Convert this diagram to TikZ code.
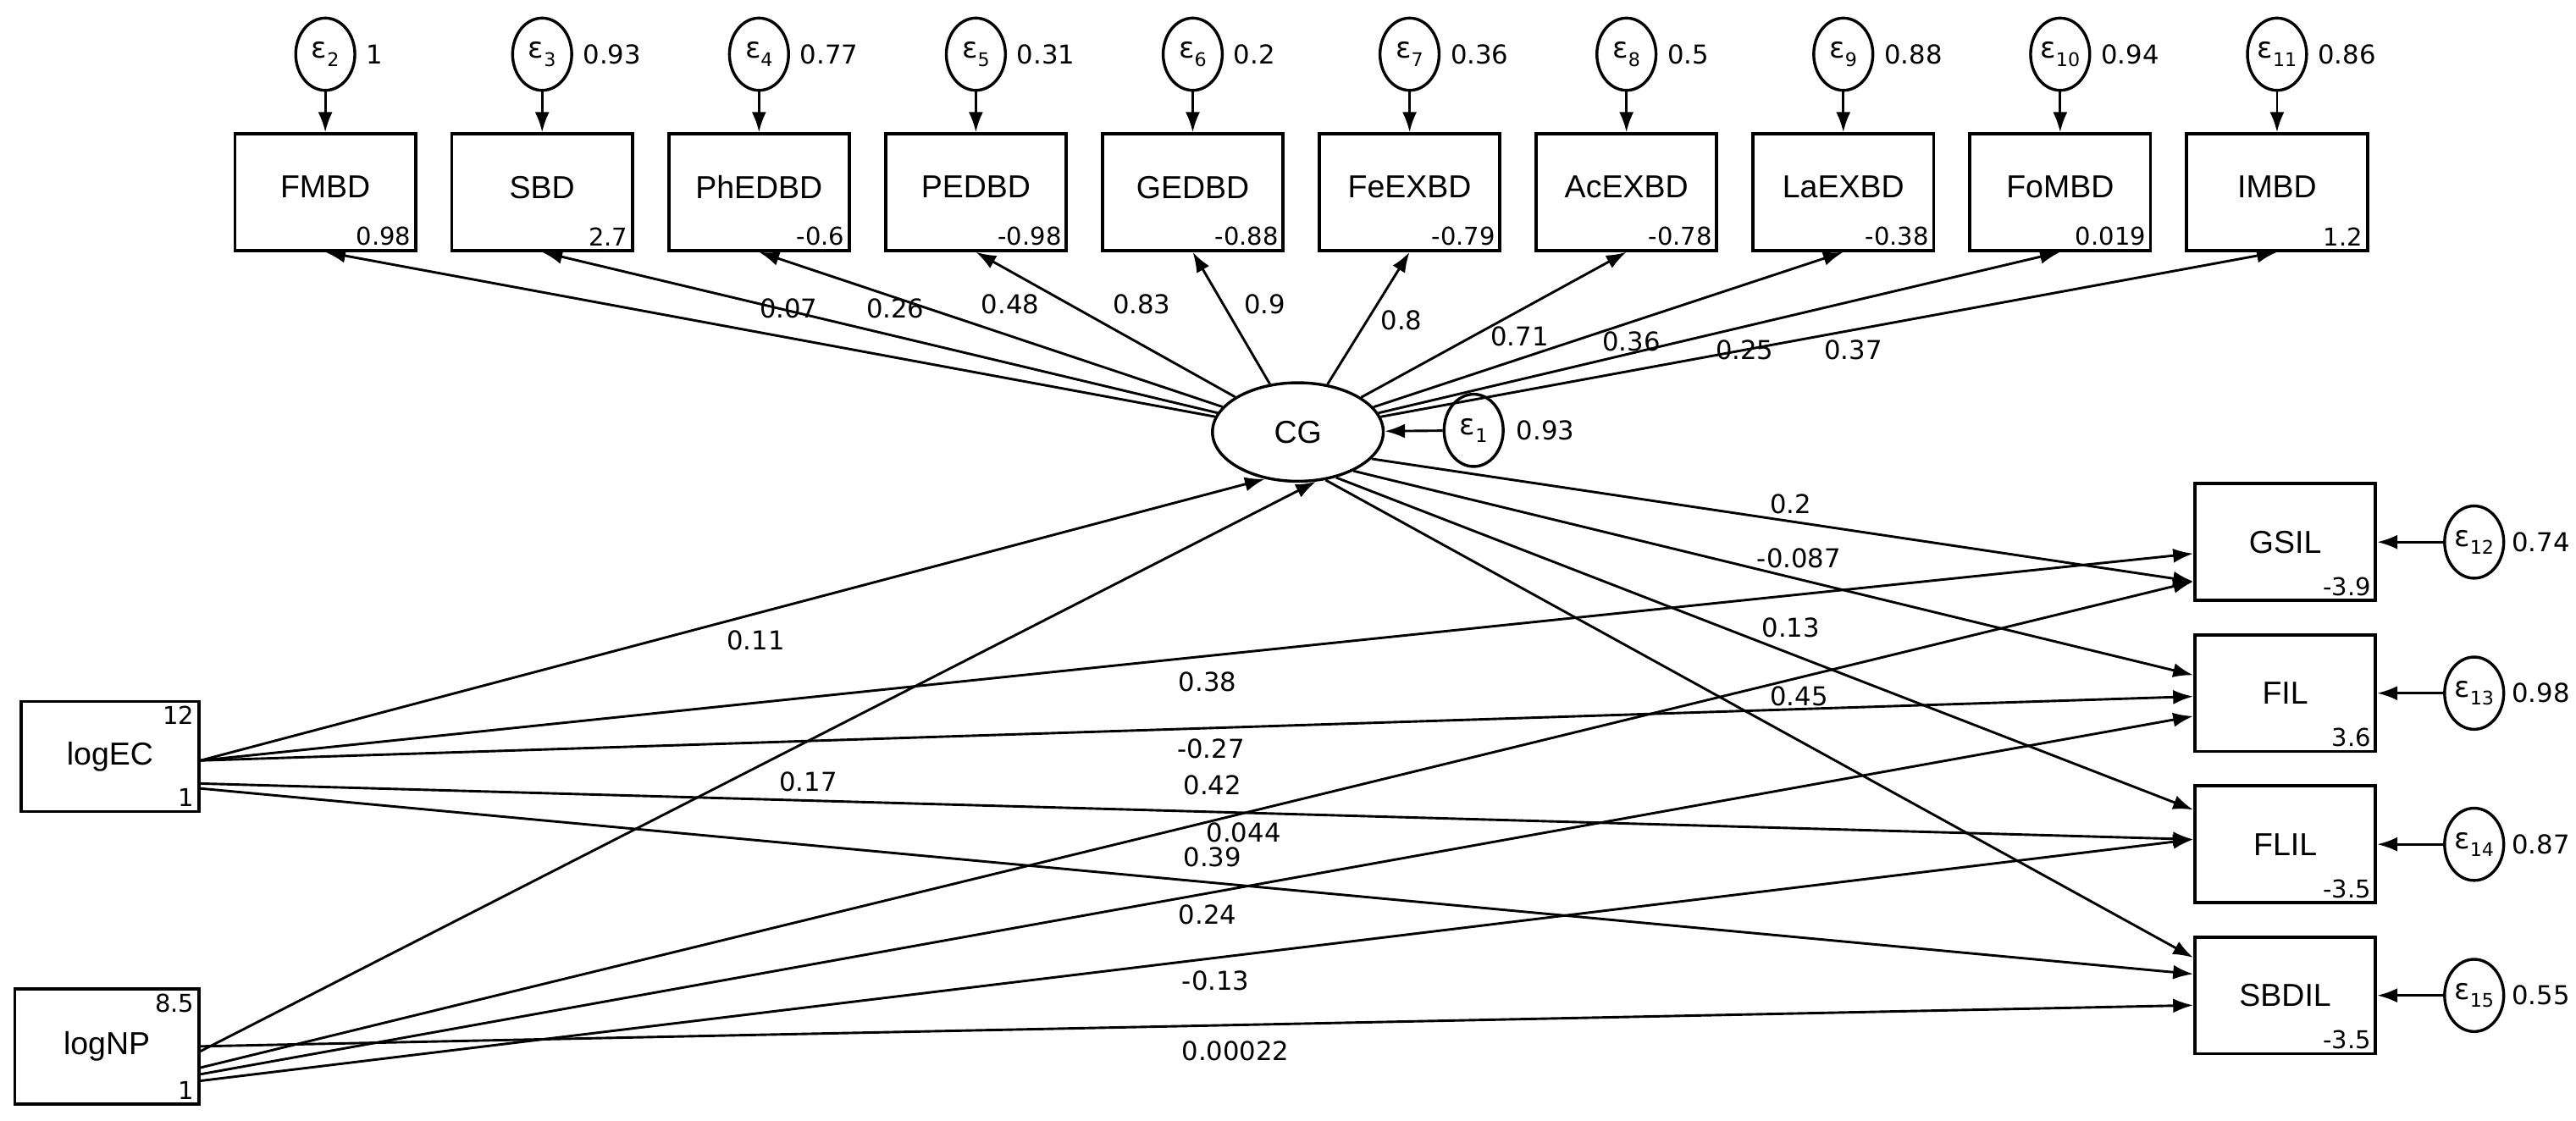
\documentclass[tikz,border=0pt]{standalone}
\usepackage{fontspec}
\setmainfont{Liberation Sans}
\newfontfamily\numfont{DejaVu Sans}
\usetikzlibrary{shapes.geometric,arrows.meta}
\begin{document}
\begin{tikzpicture}[x=0.02cm,y=-0.02cm,
  box/.style={draw,line width=1.1pt,minimum width=2.2cm,minimum height=1.42cm,inner sep=0pt,font=\fontsize{11pt}{12pt}\selectfont},
  err/.style={draw,line width=1pt,ellipse,minimum width=0.72cm,minimum height=0.88cm,inner sep=0pt,font=\numfont\fontsize{10pt}{11pt}\selectfont},
  num/.style={font=\numfont\fontsize{9pt}{10pt}\selectfont,inner sep=1pt},
  inum/.style={font=\numfont\fontsize{8.5pt}{9pt}\selectfont,inner sep=2pt},
  arr/.style={-{Latex[length=7pt,width=5pt]},line width=0.85pt}]
\useasboundingbox (0,0) rectangle (1568,682);
\newcommand{\eps}[1]{ε\raisebox{-0.5ex}{\fontsize{6.5pt}{7pt}\selectfont #1}}
% latent
\node[draw,ellipse,line width=1pt,minimum width=2.08cm,minimum height=1.2cm,font=\fontsize{11pt}{12pt}\selectfont] (CG) at (790,263) {CG};
\node[err] (e1) at (897,262) {\eps{1}};
\node[num,anchor=west] at (921,262) {0.93};
\draw[arr] (e1) -- (CG);
% top indicators
\foreach \n/\m/\v/\k/\lx/\ly/\lv [count=\i] in {
 FMBD/0.98/1/2/480/188/0.07,
 SBD/2.7/0.93/3/545/188/0.26,
 PhEDBD/-0.6/0.77/4/615/185/0.48,
 PEDBD/-0.98/0.31/5/695/185/0.83,
 GEDBD/-0.88/0.2/6/770/185/0.9,
 FeEXBD/-0.79/0.36/7/853/195/0.8,
 AcEXBD/-0.78/0.5/8/925/205/0.71,
 LaEXBD/-0.38/0.88/9/993/208/0.36,
 FoMBD/0.019/0.94/10/1062/213/0.25,
 IMBD/1.2/0.86/11/1128/213/0.37}{
  \pgfmathsetmacro{\cx}{198+132*(\i-1)}
  \node[box] (b\i) at (\cx,117) {\raisebox{0.6ex}{\n}};
  \node[inum,anchor=south east] at (b\i.south east) {\m};
  \node[err] (t\i) at (\cx,33) {\eps{\k}};
  \node[num,anchor=west] at ([xshift=0.08cm]t\i.east) {\v};
  \draw[arr] (t\i) -- (b\i);
  \draw[arr] (CG) -- (b\i.south);
  \node[num] at (\lx,\ly) {\lv};
}
% exogenous
\node[box,minimum width=2.16cm,minimum height=1.34cm] (EC) at (67,460.5) {logEC};
\node[inum,anchor=north east] at (EC.north east) {12};
\node[inum,anchor=south east] at (EC.south east) {1};
\node[box,minimum width=2.24cm,minimum height=1.4cm] (NP) at (65,637) {logNP};
\node[inum,anchor=north east] at (NP.north east) {8.5};
\node[inum,anchor=south east] at (NP.south east) {1};
% outcomes
\foreach \n/\m/\v/\k/\y in {GSIL/-3.9/0.74/12/330, FIL/3.6/0.98/13/422, FLIL/-3.5/0.87/14/514, SBDIL/-3.5/0.55/15/606}{
  \node[box] (\n) at (1391,\y) {\n};
  \node[inum,anchor=south east] at (\n.south east) {\m};
  \node[err] (r\n) at (1506,\y) {\eps{\k}};
  \node[num,anchor=west] at ([xshift=0.04cm]r\n.east) {\v};
  \draw[arr] (r\n) -- (\n);
}
% paths to CG
\draw[arr] ([yshift=-0.05cm]EC.east) -- (CG.235);
\draw[arr] ([yshift=-0.06cm]NP.east) -- (CG.290);
% CG to outcomes
\draw[arr] (CG.-20) -- ([yshift=-0.48cm]GSIL.west);
\draw[arr] (CG.-35) -- ([yshift=0.22cm]FIL.west);
\draw[arr] (CG.-50) -- ([yshift=0.42cm]FLIL.west);
\draw[arr] (CG.-60) -- ([yshift=0.46cm]SBDIL.west);
% logEC to outcomes
\draw[arr] ([yshift=-0.05cm]EC.east) -- ([yshift=-0.14cm]GSIL.west);
\draw[arr] ([yshift=-0.05cm]EC.east) -- ([yshift=-0.04cm]FIL.west);
\draw[arr] ([yshift=-0.33cm]EC.east) -- ([yshift=0.06cm]FLIL.west);
\draw[arr] ([yshift=-0.39cm]EC.east) -- ([yshift=0.26cm]SBDIL.west);
% logNP to outcomes
\draw[arr] ([yshift=-0.26cm]NP.east) -- ([yshift=-0.48cm]GSIL.west);
\draw[arr] ([yshift=-0.34cm]NP.east) -- ([yshift=-0.28cm]FIL.west);
\draw[arr] ([yshift=-0.42cm]NP.east) -- ([yshift=0.06cm]FLIL.west);
\draw[arr] (NP.east) -- ([yshift=-0.12cm]SBDIL.west);
% labels
\node[num] at (460,390) {0.11};
\node[num] at (492,476) {0.17};
\node[num] at (1090,307) {0.2};
\node[num] at (1095,340) {-0.087};
\node[num] at (1090,382) {0.13};
\node[num] at (1095,424) {0.45};
\node[num] at (735,415) {0.38};
\node[num] at (737,456) {-0.27};
\node[num] at (738,478) {0.42};
\node[num] at (757,507) {0.044};
\node[num] at (738,522) {0.39};
\node[num] at (735,557) {0.24};
\node[num] at (740,597) {-0.13};
\node[num] at (752,640) {0.00022};
\end{tikzpicture}
\end{document}
